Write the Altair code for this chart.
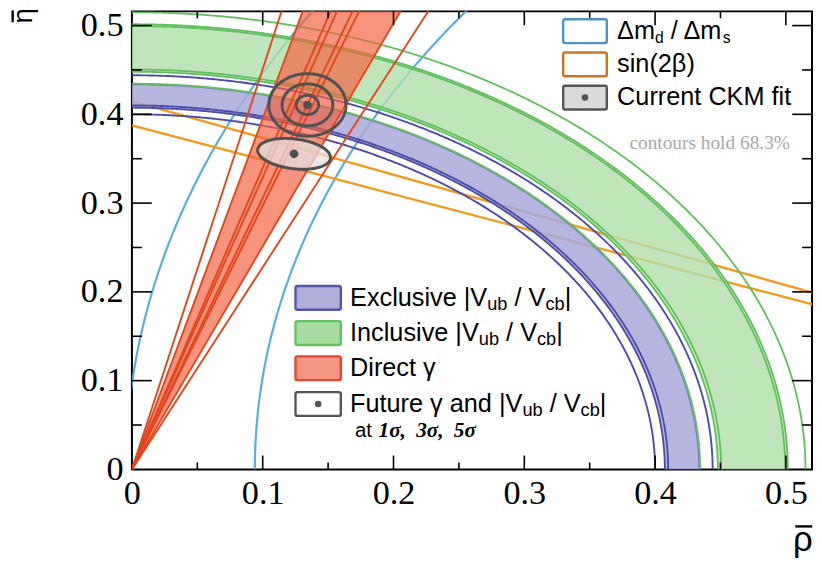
import altair as alt
import numpy as np
import pandas as pd

# ---------------- values ----------------
X_MAX = 0.52
Y_MAX = 0.516
LABEL_VALUES = [0, 0.1, 0.2, 0.3, 0.4, 0.5]
MAJOR_TICKS = [0.1, 0.2, 0.3, 0.4, 0.5]
MINOR_TICKS = [0.05, 0.15, 0.25, 0.35, 0.45]

EXCL_BAND = [0.4075, 0.4345]
EXCL_CORE = [0.4100, 0.4335]
EXCL_LINES = [0.4000, 0.4075, 0.4100, 0.4440]
INCL_BAND = [0.4480, 0.5015]
INCL_CORE = [0.4505, 0.4995]
INCL_LINES = [0.4345, 0.4480, 0.4505, 0.4995, 0.5015, 0.5150]
GAMMA_BAND_DEG = [68.3, 75.8]
GAMMA_LINES_DEG = [66.3, 68.3, 71.4, 71.9, 73.1, 73.6, 75.8, 77.5]
DM_CENTER = [1.0, 0.0]
DM_RADII = [0.906, 1.0046]
SIN2B_INTERCEPTS = [0.3875, 0.4150]
FUTURE_CENTER = [0.1342, 0.4106]
FUTURE_SEMI_X = [0.0085, 0.0194, 0.0295]
FUTURE_SEMI_Y = [0.0108, 0.0237, 0.0352]
FIT_CENTER = [0.1240, 0.3555]
FIT_SEMI = [0.0280, 0.0168]
FIT_TILT_DEG = -7.0

# ---------------- layout / style ----------------
W, H = 686, 462
OX, OY = 133.3, 9.0          # page position of the plot origin
SX, SY = W / X_MAX, H / Y_MAX
SANS = "Liberation Sans, Arial, Helvetica, sans-serif"
SERIF = "Liberation Serif, Times New Roman, serif"

C_EXCL_FILL, C_EXCL_LINE = "#a9a9d8", "#4c4ca8"
C_INCL_FILL, C_INCL_LINE = "#b2e0aa", "#5fbf5a"
C_GAM_FILL, C_GAM_LINE = "#f4603f", "#e3461e"
C_DM = "#5aaed8"
C_S2B = "#f29a1e"
C_ELL = "#505050"

XS = alt.Scale(domain=[0, X_MAX], nice=False, zero=False)
YS = alt.Scale(domain=[0, Y_MAX], nice=False, zero=False)
XAX = alt.Axis(values=LABEL_VALUES, format=".1~f", labelFont=SERIF, labelFontSize=34.5,
               labelPadding=7, labelFlush=False, labelOverlap=False, labelColor="black",
               ticks=False, domain=False, grid=False, title="")
YAX = alt.Axis(values=LABEL_VALUES, format=".1~f", labelFont=SERIF, labelFontSize=34.5,
               labelPadding=9, labelFlush=False, labelOverlap=False, labelColor="black",
               ticks=False, domain=False, grid=False, title="")


def X(f="x"):
    return alt.X(f"{f}:Q", scale=XS, axis=XAX)


def Y(f="y"):
    return alt.Y(f"{f}:Q", scale=YS, axis=YAX)


# ---------------- geometry tables built from the values ----------------
def arcs(cx, cy, radii, t0, t1, n=500):
    rows = []
    th = np.linspace(np.radians(t0), np.radians(t1), n)
    for g, r in enumerate(radii):
        for i, t in enumerate(th):
            rows.append(dict(g=g, i=i, x=cx + r * np.cos(t), y=cy + r * np.sin(t)))
    return pd.DataFrame(rows)


def annulus(r1, r2, n=500):
    th = np.linspace(0, np.pi / 2, n)
    xs = np.unique(np.concatenate([r2 * np.cos(th), r1 * np.cos(th)]))
    return pd.DataFrame(dict(x=xs,
                             yhi=np.sqrt(np.clip(r2 ** 2 - xs ** 2, 0, None)),
                             ylo=np.sqrt(np.clip(r1 ** 2 - xs ** 2, 0, None))))


def rays(angles, length=0.7):
    rows = []
    for g, a in enumerate(angles):
        t = np.radians(a)
        rows.append(dict(g=g, i=0, x=0.0, y=0.0))
        rows.append(dict(g=g, i=1, x=length * np.cos(t), y=length * np.sin(t)))
    return pd.DataFrame(rows)


def sin2b_lines(intercepts):
    rows = []
    for g, a in enumerate(intercepts):
        rows.append(dict(g=g, i=0, x=0.0, y=a))
        rows.append(dict(g=g, i=1, x=DM_CENTER[0], y=0.0))
    return pd.DataFrame(rows)


def ellipse_xy(cx, cy, ax, ay, tilt, t):
    u, v = ax * SX * np.cos(t), ay * SY * np.sin(t)
    p = np.radians(tilt)
    return cx + (u * np.cos(p) - v * np.sin(p)) / SX, cy + (u * np.sin(p) + v * np.cos(p)) / SY


def ellipses(cx, cy, axs, ays, tilt=0.0, n=241):
    rows = []
    t = np.linspace(0, 2 * np.pi, n)
    for g, (ax, ay) in enumerate(zip(axs, ays)):
        xs, ys = ellipse_xy(cx, cy, ax, ay, tilt, t)
        for i in range(n):
            rows.append(dict(g=g, i=i, x=xs[i], y=ys[i]))
    return pd.DataFrame(rows)


def ellipse_area(cx, cy, ax, ay, tilt, n=400):
    p = np.radians(tilt)
    tr = np.arctan2(-ay * SY * np.sin(p), ax * SX * np.cos(p))
    tu = np.linspace(tr, tr + np.pi, n)
    tl = np.linspace(tr + np.pi, tr + 2 * np.pi, n)
    xu, yu = ellipse_xy(cx, cy, ax, ay, tilt, tu)
    xl, yl = ellipse_xy(cx, cy, ax, ay, tilt, tl)
    xu, yu = xu[::-1], yu[::-1]
    grid = np.linspace(xu.min(), xu.max(), n)
    return pd.DataFrame(dict(x=grid, yhi=np.interp(grid, xu, yu), ylo=np.interp(grid, xl, yl)))


def wedge(a1, a2):
    xs = np.array([0.0, X_MAX])
    return pd.DataFrame(dict(x=xs, yhi=xs * np.tan(np.radians(a2)), ylo=xs * np.tan(np.radians(a1))))


def line_layer(df, color, width, opacity=1.0):
    return alt.Chart(df).mark_line(color=color, strokeWidth=width, opacity=opacity, clip=True).encode(
        x=X(), y=Y(), detail="g:N", order="i:Q")


def area_layer(df, color, opacity):
    return alt.Chart(df).mark_area(color=color, opacity=opacity, clip=True).encode(
        x=X(), y=Y("yhi"), y2="ylo:Q")


# ---------------- legend text helper (Arial metrics) ----------------
AW = {' ': 278, '|': 260, '/': 278, '(': 333, ')': 333, '2': 556, 'E': 667, 'x': 500, 'c': 500,
      'l': 222, 'u': 556, 's': 500, 'i': 222, 'v': 500, 'e': 556, 'V': 667, 'b': 556, 'I': 278,
      'n': 556, 'D': 722, 'r': 333, 't': 278, 'F': 611, 'a': 556, 'd': 556, 'C': 722, 'K': 667,
      'M': 833, 'f': 278, 'm': 833, 'o': 556, 'γ': 500, 'Δ': 668, 'β': 575}


def tw(s, size):
    return sum(AW.get(ch, 556) for ch in s) / 1000.0 * size


def rich(parts, x0, base, size, sub_scale=0.72, sub_drop=0.17):
    rows, x = [], x0
    for txt, kind in parts:
        s = size * sub_scale if kind == "sub" else size
        y = base + size * sub_drop if kind == "sub" else base
        lead = len(txt) - len(txt.lstrip(" "))
        x += tw(" " * lead, s)
        body = txt.lstrip(" ")
        rows.append(dict(px=x - OX, py=y - OY, text=body.rstrip(" "), size=s))
        x += tw(body, s)
    return rows


FS = 25.5
sans_rows = []
sans_rows += rich([("Δm", "n"), ("d", "sub"), (" / Δm", "n"), ("s", "sub")], 622.7, 36.5, FS, sub_scale=0.62)
sans_rows += rich([("sin(2β)", "n")], 622.7, 70.0, FS)
sans_rows += rich([("Current CKM fit", "n")], 622.7, 103.5, FS)
VUB = [("ub", "sub"), (" / V", "n"), ("cb", "sub"), ("|", "n")]
sans_rows += rich([("Exclusive |V", "n")] + VUB, 353.3, 306.0, FS)
sans_rows += rich([("Inclusive |V", "n")] + VUB, 353.3, 341.5, FS)
sans_rows += rich([("Direct γ", "n")], 353.3, 377.0, FS)
sans_rows += rich([("Future γ and |V", "n")] + VUB, 353.3, 413.0, FS)
sans_rows += rich([("at", "n")], 358.3, 438.5, 20.5)
sans_df = pd.DataFrame(sans_rows)
SIGMA_LABELS = ["1σ,", "3σ,", "5σ"]
SIGMA_X = [382.0, 420.0, 458.0]
italic_df = pd.DataFrame(dict(px=[x - OX for x in SIGMA_X], py=[438.5 - OY] * 3,
                              text=SIGMA_LABELS, size=[21.5] * 3))
note_df = pd.DataFrame([dict(px=797.0 - OX, py=148.0 - OY, text="contours hold 68.3%", size=19.5)])

# axis titles (with a drawn overline bar)
title_df = pd.DataFrame([dict(px=820.0 - OX, py=553.0 - OY, text="ρ", size=35)])
eta_df = pd.DataFrame([dict(px=33.0 - OX, py=13.5 - OY, text="η", size=28)])

# legend boxes (page px)
BOXES = pd.DataFrame([
    dict(x0=568.3, x1=612.3, y0=17.0, y1=41.0, fill="white", stroke="#4a94bd"),
    dict(x0=568.3, x1=612.3, y0=50.5, y1=74.5, fill="white", stroke="#c9771b"),
    dict(x0=568.3, x1=612.3, y0=84.0, y1=108.0, fill="#dadada", stroke="#555555"),
    dict(x0=298.3, x1=344.0, y0=286.0, y1=310.0, fill="#aeaed8", stroke="#5454b0"),
    dict(x0=298.3, x1=344.0, y0=321.5, y1=345.5, fill="#a8dca0", stroke="#62c25c"),
    dict(x0=298.3, x1=344.0, y0=357.0, y1=381.0, fill="#f09682", stroke="#e0482a"),
    dict(x0=298.3, x1=344.0, y0=393.0, y1=417.0, fill="white", stroke="#555555"),
])
for c in ["x0", "x1"]:
    BOXES[c] = BOXES[c] - OX
for c in ["y0", "y1"]:
    BOXES[c] = BOXES[c] - OY
DOTS = pd.DataFrame(dict(px=[(568.3 + 612.3) / 2 - OX, (298.3 + 344.0) / 2 - OX],
                         py=[96.0 - OY, 405.0 - OY]))

# ---------------- layers ----------------
layers = []
layers.append(line_layer(arcs(DM_CENTER[0], DM_CENTER[1], DM_RADII, 90, 180), C_DM, 2.2))
layers.append(line_layer(sin2b_lines(SIN2B_INTERCEPTS), C_S2B, 2.4))

layers.append(area_layer(annulus(*EXCL_BAND), C_EXCL_FILL, 0.75))
layers.append(area_layer(annulus(*EXCL_CORE), C_EXCL_FILL, 0.45))
layers.append(line_layer(arcs(0, 0, EXCL_LINES, 0, 90), C_EXCL_LINE, 1.9))
layers.append(line_layer(arcs(0, 0, [EXCL_CORE[1]], 0, 90), "#7a7ac4", 1.2))

layers.append(area_layer(annulus(*INCL_BAND), C_INCL_FILL, 0.7))
layers.append(area_layer(annulus(*INCL_CORE), C_INCL_FILL, 0.35))
layers.append(line_layer(arcs(0, 0, INCL_LINES, 0, 90), C_INCL_LINE, 1.8))

layers.append(area_layer(wedge(*GAMMA_BAND_DEG), C_GAM_FILL, 0.68))
layers.append(line_layer(rays(GAMMA_LINES_DEG), C_GAM_LINE, 1.9))

layers.append(area_layer(ellipse_area(FIT_CENTER[0], FIT_CENTER[1], FIT_SEMI[0], FIT_SEMI[1], FIT_TILT_DEG),
                         "#e4e0e0", 0.75))
layers.append(line_layer(ellipses(FIT_CENTER[0], FIT_CENTER[1], [FIT_SEMI[0]], [FIT_SEMI[1]], FIT_TILT_DEG),
                         C_ELL, 3.0))
layers.append(line_layer(ellipses(FUTURE_CENTER[0], FUTURE_CENTER[1], FUTURE_SEMI_X, FUTURE_SEMI_Y),
                         C_ELL, 3.0))
centers = pd.DataFrame(dict(x=[FUTURE_CENTER[0], FIT_CENTER[0]], y=[FUTURE_CENTER[1], FIT_CENTER[1]]))
layers.append(alt.Chart(centers).mark_point(filled=True, size=75, color=C_ELL, opacity=1).encode(x=X(), y=Y()))

# inward ticks on all four sides
for vals, lx, ly in [(MAJOR_TICKS, 14, 20), (MINOR_TICKS, 7, 10)]:
    tdf = pd.DataFrame({"v": vals})
    rule = alt.Chart(tdf).mark_rule(color="black", strokeWidth=1.6)
    layers.append(rule.encode(x=X("v"), y=alt.value(H), y2=alt.value(H - lx)))
    layers.append(rule.encode(x=X("v"), y=alt.value(0), y2=alt.value(lx)))
    layers.append(rule.encode(y=Y("v"), x=alt.value(0), x2=alt.value(ly)))
    layers.append(rule.encode(y=Y("v"), x=alt.value(W), x2=alt.value(W - ly)))

# legends
layers.append(alt.Chart(BOXES).mark_rect(strokeWidth=2.4, cornerRadius=2).encode(
    x=alt.X("x0:Q", scale=None), x2="x1:Q", y=alt.Y("y0:Q", scale=None), y2="y1:Q",
    fill=alt.Fill("fill:N", scale=None), stroke=alt.Stroke("stroke:N", scale=None)))
layers.append(alt.Chart(DOTS).mark_point(filled=True, size=45, color="#555555", opacity=1).encode(
    x=alt.X("px:Q", scale=None), y=alt.Y("py:Q", scale=None)))
layers.append(alt.Chart(sans_df).mark_text(font=SANS, align="left", baseline="alphabetic", color="black").encode(
    x=alt.X("px:Q", scale=None), y=alt.Y("py:Q", scale=None), text="text:N", size=alt.Size("size:Q", scale=None)))
layers.append(alt.Chart(italic_df).mark_text(font=SERIF, fontStyle="italic", fontWeight="bold", align="left",
                                             baseline="alphabetic", color="black").encode(
    x=alt.X("px:Q", scale=None), y=alt.Y("py:Q", scale=None), text="text:N", size=alt.Size("size:Q", scale=None)))
layers.append(alt.Chart(note_df).mark_text(font=SERIF, align="right", baseline="alphabetic", color="#a8a8a8").encode(
    x=alt.X("px:Q", scale=None), y=alt.Y("py:Q", scale=None), text="text:N", size=alt.Size("size:Q", scale=None)))

# axis titles ρ̄ and η̄
layers.append(alt.Chart(title_df).mark_text(font=SANS, align="right", baseline="alphabetic", color="black").encode(
    x=alt.X("px:Q", scale=None), y=alt.Y("py:Q", scale=None), text="text:N", size=alt.Size("size:Q", scale=None)))
layers.append(alt.Chart(eta_df).mark_text(font=SANS, angle=270, align="center", baseline="alphabetic",
                                          color="black").encode(
    x=alt.X("px:Q", scale=None), y=alt.Y("py:Q", scale=None), text="text:N", size=alt.Size("size:Q", scale=None)))
layers.append(alt.Chart(title_df).mark_rule(color="black", strokeWidth=2.4).encode(
    x=alt.value(802.5 - OX), x2=alt.value(819.5 - OX), y=alt.value(528.5 - OY)))
layers.append(alt.Chart(eta_df).mark_rule(color="black", strokeWidth=2.4).encode(
    x=alt.value(13.0 - OX), y=alt.value(8.0 - OY), y2=alt.value(20.0 - OY)))

chart = alt.layer(*layers).properties(
    width=W, height=H,
    padding={"left": 125, "top": 1, "right": 2, "bottom": 90},
    autosize=alt.AutoSizeParams(type="none"),
    background="white",
).configure_view(stroke="black", strokeWidth=2)

chart.save("out.html", embed_options={"renderer": "svg", "actions": False})
